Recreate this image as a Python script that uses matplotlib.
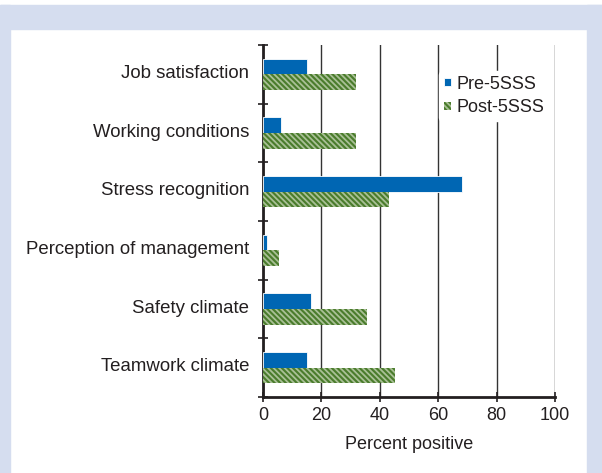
import numpy as np
import matplotlib
matplotlib.use('Agg')
import matplotlib.pyplot as plt
import matplotlib.transforms as mtransforms
from matplotlib.patches import Rectangle
from matplotlib.ticker import MultipleLocator

plt.rcParams['font.family'] = ['Liberation Sans', 'DejaVu Sans']
plt.rcParams['hatch.linewidth'] = 1.3

categories = ['Job satisfaction', 'Working conditions', 'Stress recognition',
              'Perception of management', 'Safety climate', 'Teamwork climate']
pre = [14.9, 6.3, 68.2, 1.4, 16.4, 14.9]
post = [32.0, 32.0, 43.2, 5.4, 35.7, 45.1]
series_names = ['Pre-5SSS', 'Post-5SSS']
xticks = [0, 20, 40, 60, 80, 100]

blue = '#0066b3'
green = '#4a7c2c'
stripe = '#a9c096'
txt = '#231f20'

fig = plt.figure(figsize=(6.02, 4.73), dpi=100)

# light blue frame around the white panel
bg = '#d5ddef'
fig.patches.append(Rectangle((0, 0), 10/602, 468/473, transform=fig.transFigure, color=bg, zorder=-10))
fig.patches.append(Rectangle((0, 444/473), 1, 24/473, transform=fig.transFigure, color=bg, zorder=-10))
fig.patches.append(Rectangle((587/602, 0), 15/602, 468/473, transform=fig.transFigure, color=bg, zorder=-10))

ax = fig.add_axes([263/602, 76/473, 292/602, 352/473])

y = np.arange(len(categories))
h = 0.265
ax.barh(y - h/2, pre, height=h, color=blue, edgecolor='white', linewidth=0.6,
        label=series_names[0], zorder=3)
ax.barh(y + h/2, post, height=h, facecolor=green, edgecolor=stripe, hatch='\\\\\\\\\\\\',
        linewidth=0, label=series_names[1], zorder=3)

ax.set_xlim(0, 100)
ax.set_ylim(len(categories) - 0.5, -0.5)
ax.set_xticks(xticks)
ax.set_yticks(y)
ax.set_yticklabels(categories)
ax.yaxis.set_minor_locator(MultipleLocator(1, offset=0.5))
ax.tick_params(axis='y', which='major', length=0, pad=10, labelsize=13.4, labelcolor=txt)
ax.tick_params(axis='y', which='minor', length=7, width=1.2, direction='inout', color=txt)
ax.tick_params(axis='x', length=7, width=1.2, direction='inout', labelsize=13,
               labelcolor=txt, color=txt, pad=4)
ax.set_xlabel('Percent positive', fontsize=13, color=txt, labelpad=8)

# nudge category labels up a little
shift = mtransforms.ScaledTranslation(0, 3/100, fig.dpi_scale_trans)
for lab in ax.get_yticklabels():
    lab.set_transform(lab.get_transform() + shift)

ax.xaxis.grid(True, color='#333333', linewidth=1.0, zorder=0)
ax.set_axisbelow(True)
for s in ['top', 'right']:
    ax.spines[s].set_visible(False)
for s in ['left', 'bottom']:
    ax.spines[s].set_linewidth(2)
    ax.spines[s].set_color(txt)

leg = ax.legend(loc='upper left', bbox_to_anchor=(0.603, 0.925), frameon=True,
                fontsize=13, handlelength=0.4, handleheight=0.3,
                handletextpad=0.3, labelspacing=0.35, borderpad=0.25,
                borderaxespad=0.0)
leg.get_frame().set_edgecolor('white')
leg.get_frame().set_facecolor('white')
leg.get_frame().set_alpha(1)
for t in leg.get_texts():
    t.set_color(txt)

plt.savefig('out.png', dpi=100)
